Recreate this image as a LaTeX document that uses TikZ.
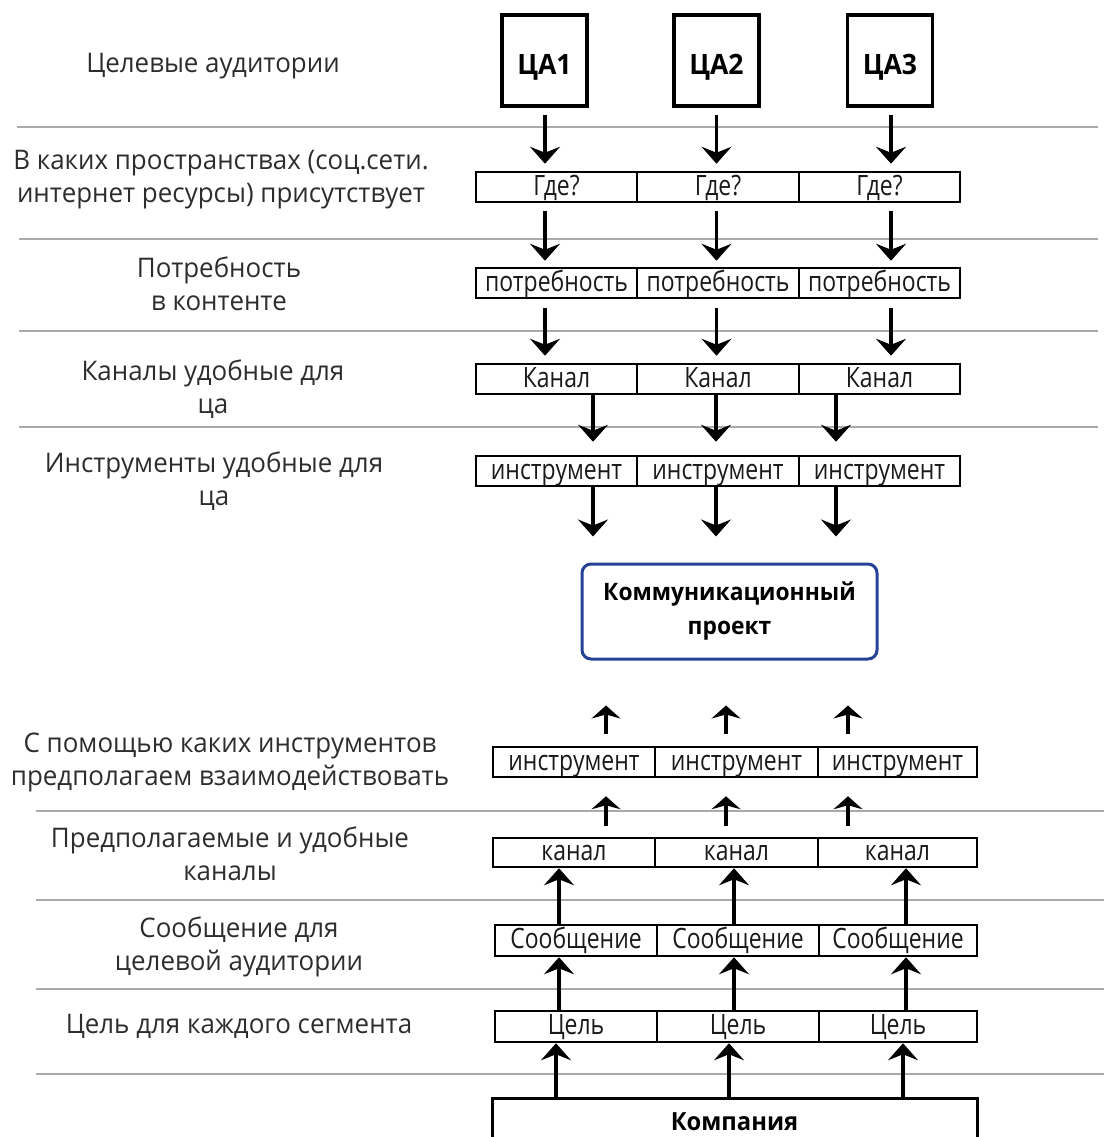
\documentclass[tikz,border=0pt]{standalone}
\usepackage{fontspec}
\setmainfont{Open Sans}
\newfontfamily\lblfont[FakeStretch=0.96]{Open Sans}
\newfontfamily\boxfont[FakeStretch=0.82]{Open Sans}
\newfontfamily\bldfont[FakeStretch=0.95]{Open Sans}
\usetikzlibrary{arrows.meta}
\definecolor{komblue}{RGB}{38,66,150}
\definecolor{sepgray}{RGB}{170,170,170}
\definecolor{lbltext}{RGB}{45,45,45}
\newcommand{\cellrow}[8]{%
  \node[cell, minimum width={#5-#4}, minimum height={#3-#2}] (#11) at ({(#4+#5)/2},{(#2+#3)/2}) {#8};
  \node[cell, minimum width={#6-#5}, minimum height={#3-#2}] (#12) at ({(#5+#6)/2},{(#2+#3)/2}) {#8};
  \node[cell, minimum width={#7-#6}, minimum height={#3-#2}] (#13) at ({(#6+#7)/2},{(#2+#3)/2}) {#8};
}
\begin{document}
\begin{tikzpicture}[x=1pt,y=-1pt,
  cell/.style={draw=black, line width=2.5pt, inner sep=0pt, text=black!90,
    text height=20pt, text depth=4pt,
    font=\boxfont\fontsize{28}{30}\selectfont},
  cabox/.style={draw=black, line width=3.5pt, minimum width=85pt, minimum height=91pt,
    inner sep=0pt, text height=29pt, text depth=0pt,
    font=\bldfont\bfseries\fontsize{28}{32}\selectfont},
  lbl/.style={font=\lblfont\fontsize{27}{33}\selectfont, text=lbltext, align=center, inner sep=0pt},
  sep/.style={draw=sepgray, line width=1.5pt},
  arr/.style={-{Stealth[length=17pt,width=30pt,inset=6pt]}, line width=3.5pt},
  sarr/.style={-{Stealth[length=13pt,width=29pt,inset=4pt]}, line width=3.5pt}]
\useasboundingbox (0,0) rectangle (1104,1137);

% separators
\draw[sep] (17,127) -- (1098,127);
\draw[sep] (19,239) -- (1098,239);
\draw[sep] (19,331) -- (1098,331);
\draw[sep] (19,427) -- (1098,427);
\draw[sep] (36,811) -- (1104,811);
\draw[sep] (36,900) -- (1104,900);
\draw[sep] (36,989) -- (1104,989);
\draw[sep] (36,1074) -- (1104,1074);

% left labels
\node[lbl, anchor=base] (lab1) at (213,73) {Целевые аудитории};
\node[lbl, anchor=base] (lab2) at (221,202) {В каких пространствах (соц.сети.\\интернет ресурсы) присутствует};
\node[lbl, anchor=base] (lab3) at (219,310) {Потребность\\в контенте};
\node[lbl, anchor=base] (lab4) at (213,413) {Каналы удобные для\\ца};
\node[lbl, anchor=base] (lab5) at (214,505) {Инструменты удобные для\\ца};
\node[lbl, anchor=base] (lab6) at (230,785) {С помощью каких инструментов\\предполагаем взаимодействовать};
\node[lbl, anchor=base] (lab7) at (230,880) {Предполагаемые и удобные\\каналы};
\node[lbl, anchor=base] (lab8) at (239,970) {Сообщение для\\целевой аудитории};
\node[lbl, anchor=base] (lab9) at (239,1033) {Цель для каждого сегмента};

% target audiences
\node[cabox] (ca1) at (544.5,60.5) {ЦА1};
\node[cabox] (ca2) at (716.5,60.5) {ЦА2};
\node[cabox] (ca3) at (890,60.5) {ЦА3};

% upper rows
\cellrow{gde}{172}{202}{476}{637}{799}{960}{Где?}
\cellrow{potr}{268}{298}{476}{637}{799}{960}{потребность}
\cellrow{kan}{364}{394}{476}{637}{799}{960}{Канал}
\cellrow{ins}{456}{486}{476}{637}{799}{960}{инструмент}

% communication project
\node[draw=komblue, line width=3pt, rounded corners=9pt, minimum width=295pt, minimum height=95pt,
  align=center, inner sep=0pt, font=\bldfont\bfseries\fontsize{24}{34}\selectfont] (kom) at (729.5,611.5)
  {Коммуникационный\\проект};

% lower rows
\cellrow{insl}{747}{777}{493}{655}{818}{977}{инструмент}
\cellrow{kanl}{838}{867}{493}{655}{818}{977}{канал}
\cellrow{soob}{925}{956}{495}{657}{819}{977}{Сообщение}
\cellrow{cel}{1011}{1042}{495}{657}{819}{977}{Цель}

% company
\node[draw=black, line width=3pt, minimum width=485pt, minimum height=48pt, inner sep=0pt,
  font=\bldfont\bfseries\fontsize{25}{30}\selectfont] (komp) at (734.5,1122) {Компания};

% column coordinates
\coordinate (xa1) at (545,0); \coordinate (xa2) at (716.5,0); \coordinate (xa3) at (891,0);
\coordinate (xb1) at (593,0); \coordinate (xb2) at (716,0); \coordinate (xb3) at (836,0);
\coordinate (xc1) at (606,0); \coordinate (xc2) at (726,0); \coordinate (xc3) at (848,0);
\coordinate (xd1) at (559,0); \coordinate (xd2) at (734,0); \coordinate (xd3) at (906,0);
\coordinate (xe1) at (556,0); \coordinate (xe2) at (729,0); \coordinate (xe3) at (903,0);

% downward arrows
\foreach \i in {1,2,3} {
  \draw[arr, shorten <=7pt, shorten >=7pt] (xa\i |- ca\i.south) -- (xa\i |- gde\i.north);
  \draw[arr, shorten <=8pt, shorten >=6pt] (xa\i |- gde\i.south) -- (xa\i |- potr\i.north);
  \draw[arr, shorten <=9pt, shorten >=7pt] (xa\i |- potr\i.south) -- (xa\i |- kan\i.north);
  \draw[arr, shorten >=13pt] (xb\i |- kan\i.south) -- (xb\i |- ins\i.north);
  \draw[arr, shorten >=26pt] (xb\i |- ins\i.south) -- (xb\i |- kom.north);
}
% upward arrows
\foreach \i in {1,2,3} {
  \draw[sarr, shorten <=12pt, shorten >=45pt] (xc\i |- insl\i.north) -- (xc\i |- kom.south);
  \draw[sarr, shorten <=11pt, shorten >=18pt] (xc\i |- kanl\i.north) -- (xc\i |- insl\i.south);
  \draw[arr] (xd\i |- soob\i.north) -- (xd\i |- kanl\i.south);
  \draw[arr] (xd\i |- cel\i.north) -- (xd\i |- soob\i.south);
  \draw[arr] (xe\i |- komp.north) -- (xe\i |- cel\i.south);
}
\end{tikzpicture}
\end{document}
